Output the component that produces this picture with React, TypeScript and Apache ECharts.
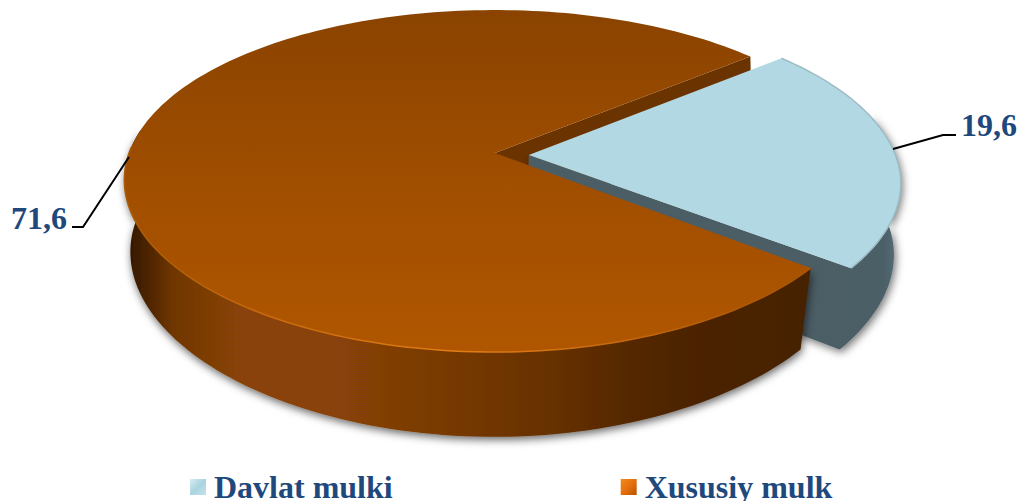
import React, { useEffect, useRef } from "react";
import * as echarts from "echarts";

const categories = ["Davlat mulki", "Xususiy mulk"];
const values = [19.6, 71.6];
const valueLabels = ["19,6", "71,6"];

const CX = 495, CY = 153, B = 366, A = 166.4, K = 0.164, KX = 0.158, J = 0.025, JX = 0.012, JV = 2.4, D = 78;
const BLUE_START = 39.8;
const EX_U = 0.092, EX_V = -0.012;
const FONT = "'Liberation Serif', 'Times New Roman', serif";
const TEXT = "#1f497d";

const total = values.reduce((a, b) => a + b, 0);

function proj(u: number, v: number, h: number): [number, number] {
  const w = 1 + K * v + J * h;
  const wx = 1 + KX * v + JX * h * (1 - JV * v);
  return [CX + (B * u) / wx, CY + (-A * v + D * h) / w];
}
function rad(t: number) {
  return (t * Math.PI) / 180;
}
// Point on a slice's rim; the front right quadrant is tightened a little to follow the picture's perspective.
function rim(t: number, h: number, ex = 0): [number, number] {
  let u = Math.cos(rad(t));
  let v = Math.sin(rad(t));
  if (u > 0 && v < 0) {
    u *= 1 - (ex ? 0.025 : 0.05) * v * v;
    if (!ex) v *= 1 + 0.03 * (1 - v * v);
  }
  return proj(u + ex * EX_U, v + ex * EX_V, h);
}
function arc(t0: number, t1: number, h: number, ex = 0) {
  const n = Math.max(2, Math.ceil(Math.abs(t1 - t0) / 1.5));
  const pts: [number, number][] = [];
  for (let i = 0; i <= n; i++) pts.push(rim(t0 + ((t1 - t0) * i) / n, h, ex));
  return pts;
}
const grad = (x0: number, y0: number, x1: number, y1: number, stops: [number, string][]) =>
  new echarts.graphic.LinearGradient(
    x0, y0, x1, y1,
    stops.map(([offset, color]) => ({ offset, color })),
    true
  );

function renderBlue(_p: any, api: any) {
  const sweep = (api.value(0) / total) * 360;
  const t0 = BLUE_START, t1 = BLUE_START - sweep;
  const apexT = proj(EX_U, EX_V, 0), apexB = proj(EX_U, EX_V, 1);
  const top = [apexT, ...arc(t0, t1, 0, 1)];
  const body = [apexT, apexB, ...arc(t1, 14, 1, 1), ...arc(14, t1, 0, 1)];
  return {
    type: "group",
    children: [
      {
        type: "polygon", z2: 10,
        shape: { points: body },
        style: {
          fill: grad(810, 0, 900, 0, [[0, "#4b5d65"], [0.8, "#4b5e66"], [0.93, "#526a72"], [1, "#5f7a84"]]),
          shadowBlur: 8, shadowColor: "rgba(0,0,0,0.55)", shadowOffsetX: 2, shadowOffsetY: 3,
        },
      },
      { type: "polygon", z2: 13, shape: { points: top }, style: { fill: "#b2d8e3" } },
      {
        type: "polyline", z2: 14, shape: { points: arc(t0, t1, 0, 1) },
        style: { fill: "none", stroke: "#9dbcc6", lineWidth: 1.5 },
      },
      {
        type: "polyline", z2: 14,
        shape: { points: [[893, 149], [943, 135], [956, 135]] },
        style: { stroke: "#000", lineWidth: 2, fill: "none" },
      },
      {
        type: "text", z2: 15,
        style: {
          text: valueLabels[0], x: 961, y: 125, align: "left", verticalAlign: "middle",
          fontFamily: FONT, fontWeight: "bold", fontSize: 32, fill: TEXT,
        },
      },
    ],
  };
}

function renderOrange(_p: any, api: any) {
  const sweep = (api.value(0) / total) * 360;
  const t0 = BLUE_START, t1 = BLUE_START + sweep;
  const apexT = proj(0, 0, 0), apexB = proj(0, 0, 1);
  const top = [apexT, ...arc(t0, t1, 0)];
  const wall = [...arc(172, t1, 0), ...arc(t1, 172, 1)];
  return {
    type: "group",
    children: [
      {
        type: "polygon", z2: 1,
        shape: { points: [apexT, rim(t0, 0), rim(t0, 1), apexB] },
        style: { fill: "#6b3300" },
      },
      {
        type: "polygon", z2: 20, shape: { points: wall },
        style: {
          fill: grad(125, 0, 810, 0, [
            [0, "#2e1400"], [0.07, "#6f3605"], [0.17, "#8a4307"], [0.3, "#8a4307"],
            [0.6, "#693203"], [0.78, "#4f2500"], [1, "#462100"],
          ]),
          shadowBlur: 8, shadowColor: "rgba(0,0,0,0.6)", shadowOffsetX: 1, shadowOffsetY: 3,
        },
      },
      {
        type: "polygon", z2: 21, shape: { points: top },
        style: { fill: grad(0, 10, 0, 352, [[0, "#8a4300"], [0.5, "#a04e00"], [1, "#b05600"]]) },
      },
      {
        type: "polyline", z2: 22, shape: { points: arc(178, t1, 0) },
        style: {
          fill: "none", lineWidth: 1.5,
          stroke: grad(125, 0, 810, 0, [[0, "#a85a08"], [0.2, "#c86a0c"], [0.5, "#e07c16"], [0.8, "#bc6208"], [1, "#a85404"]]),
        },
      },
      {
        type: "polyline", z2: 23,
        shape: { points: [[129, 157], [83, 227], [72, 227]] },
        style: { stroke: "#000", lineWidth: 2, fill: "none" },
      },
      {
        type: "text", z2: 24,
        style: {
          text: valueLabels[1], x: 11, y: 218, align: "left", verticalAlign: "middle",
          fontFamily: FONT, fontWeight: "bold", fontSize: 32, fill: TEXT,
        },
      },
    ],
  };
}

const legendGrad = (stops: string[]) =>
  new echarts.graphic.LinearGradient(0, 0, 1, 1, stops.map((color, i) => ({ offset: i / (stops.length - 1), color })));

export default function App() {
  const ref = useRef<HTMLDivElement>(null);
  useEffect(() => {
    const chart = echarts.init(ref.current!, undefined, { renderer: "svg" });
    chart.setOption({
      animation: false,
      backgroundColor: "#fff",
      legend: {
        left: 190, top: 471, padding: 0, itemWidth: 16, itemHeight: 16, itemGap: 228, icon: "rect",
        textStyle: { fontFamily: FONT, fontWeight: "bold", fontSize: 32, lineHeight: 30, color: TEXT, padding: [0, 0, 0, 3] },
        data: [
          { name: categories[0], itemStyle: { color: legendGrad(["#d8edf3", "#a9d4df", "#c5e3eb"]) } },
          { name: categories[1], itemStyle: { color: legendGrad(["#f08a1e", "#e66f0a", "#b85400"]) } },
        ],
      },
      series: [
        {
          type: "custom", name: categories[0], coordinateSystem: "none", silent: true,
          itemStyle: { color: "#b2d8e3" }, data: [[values[0]]], renderItem: renderBlue,
        },
        {
          type: "custom", name: categories[1], coordinateSystem: "none", silent: true,
          itemStyle: { color: "#e66f0a" }, data: [[values[1]]], renderItem: renderOrange,
        },
      ],
    });
    return () => chart.dispose();
  }, []);
  return (
    <div
      ref={ref}
      style={{ position: "fixed", left: 0, top: 0, width: 1018, height: 501, background: "#fff" }}
    />
  );
}
